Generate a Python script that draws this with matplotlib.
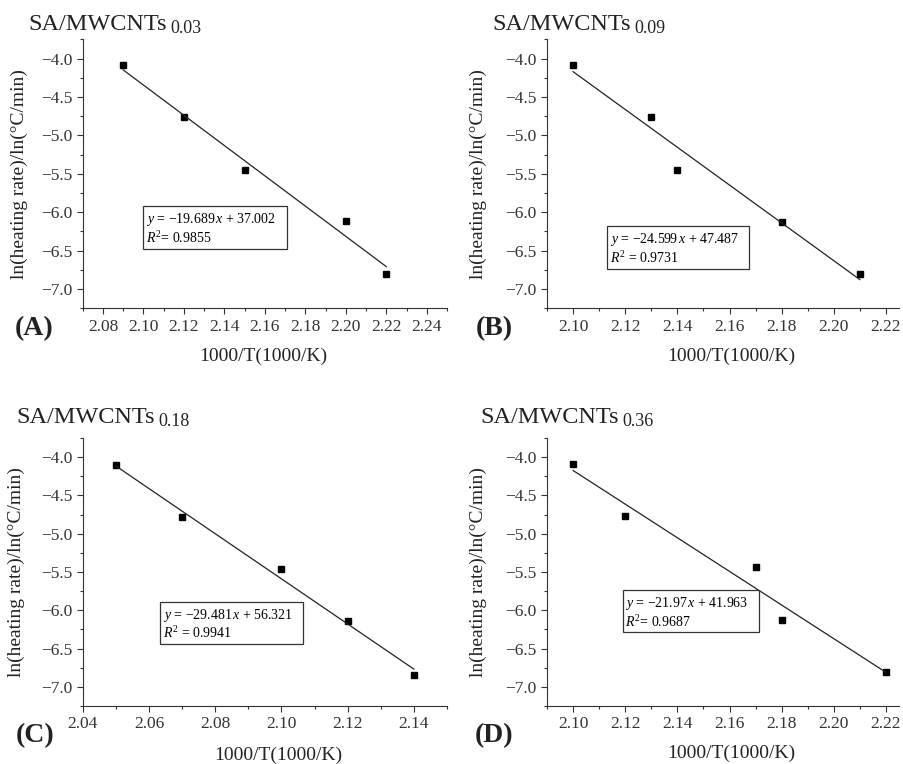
import numpy as np
import matplotlib
matplotlib.use('Agg')
import matplotlib.pyplot as plt
from matplotlib.ticker import MultipleLocator

plt.rcParams['font.family'] = ['Liberation Serif', 'DejaVu Serif']
plt.rcParams['mathtext.fontset'] = 'custom'
plt.rcParams['mathtext.rm'] = 'Liberation Serif'
plt.rcParams['mathtext.it'] = 'Liberation Serif:italic'

# data
panels = ['A', 'B', 'C', 'D']
subs = ['0.03', '0.09', '0.18', '0.36']
x_a = [2.09, 2.12, 2.15, 2.20, 2.22]
y_a = [-4.09, -4.76, -5.445, -6.115, -6.81]
x_b = [2.10, 2.13, 2.14, 2.18, 2.21]
y_b = [-4.08, -4.76, -5.45, -6.13, -6.81]
x_c = [2.05, 2.07, 2.10, 2.12, 2.14]
y_c = [-4.10, -4.785, -5.465, -6.145, -6.84]
x_d = [2.10, 2.12, 2.17, 2.18, 2.22]
y_d = [-4.09, -4.77, -5.44, -6.13, -6.81]
slopes = [-19.689, -24.599, -29.481, -21.97]
intercepts = [37.002, 47.487, 56.321, 41.963]
r2_text = ['$R^2$= 0.9855', '$R^2$ = 0.9731', '$R^2$ = 0.9941', '$R^2$= 0.9687']
eq_text = ['\u221219.689', '\u221224.599', '\u221229.481', '\u221221.97']
eq_b = ['37.002', '47.487', '56.321', '41.963']
xs = [x_a, x_b, x_c, x_d]
ys = [y_a, y_b, y_c, y_d]

xlims = [(2.07, 2.25), (2.09, 2.225), (2.04, 2.15), (2.09, 2.225)]

W, H = 904, 764
fig = plt.figure(figsize=(W / 100, H / 100), dpi=100)

# layout in pixels: left, right, top, bottom
boxes = [(82.7, 447, 39.3, 308.3), (547, 899, 39.3, 308.3),
         (82.7, 447, 438, 706), (547, 899, 438, 706)]
title_pos = [(28, 30), (492, 30), (16, 422.7), (480, 422.7)]
lab_pos = [(15, 335), (476, 335), (16, 742), (474.7, 742)]
xlab_pos = [(0.495, -0.177), (0.523, -0.177), (0.536, -0.184), (0.523, -0.176)]
ylab_pos = [-0.175, -0.194, -0.181, -0.194]
txt_pos = [(0.174, 0.362), (0.178, 0.287), (0.22, 0.371), (0.223, 0.415)]

for i in range(4):
    l, r, t, b = boxes[i]
    ax = fig.add_axes([l / W, 1 - b / H, (r - l) / W, (b - t) / H])
    x = np.array(xs[i])
    ax.plot(x, ys[i], 's', color='black', ms=4.5)
    xf = np.array([x.min(), x.max()])
    ax.plot(xf, slopes[i] * xf + intercepts[i], color='#222222', lw=0.9)

    ax.set_xlim(*xlims[i])
    ax.set_ylim(-7.25, -3.75)
    ax.xaxis.set_major_locator(MultipleLocator(0.02))
    ax.xaxis.set_minor_locator(MultipleLocator(0.01))
    ax.yaxis.set_major_locator(MultipleLocator(0.5))
    ax.yaxis.set_minor_locator(MultipleLocator(0.25))
    ax.xaxis.set_major_formatter(lambda v, p: f'{v:.2f}')
    ax.yaxis.set_major_formatter(lambda v, p: f'{v:.1f}'.replace('-', '\u2212'))
    ax.spines['top'].set_visible(False)
    ax.spines['right'].set_visible(False)
    ax.tick_params(which='major', length=4, width=0.8, labelsize=12.5,
                   colors='#333333', labelcolor='#333333')
    ax.tick_params(which='minor', length=2.5, width=0.8, colors='#333333')
    for s in ['left', 'bottom']:
        ax.spines[s].set_color('#333333')

    ax.set_xlabel('1000/T(1000/K)', fontsize=14, va='center', color='#222222')
    ax.xaxis.set_label_coords(*xlab_pos[i])
    ax.set_ylabel('ln(heating rate)/ln(°C/min)', fontsize=14, va='center',
                  color='#222222')
    ax.yaxis.set_label_coords(ylab_pos[i], 0.5)

    # fit equation box
    txt = f'$y$ = {eq_text[i]}$\\,x$ + {eq_b[i]}   \n{r2_text[i]}'
    ax.text(txt_pos[i][0], txt_pos[i][1], txt, transform=ax.transAxes,
            ha='left', va='top', fontsize=10, linespacing=1.15,
            bbox=dict(boxstyle='square,pad=0.2', fc='white', ec='#333333', lw=0.9))

    tx, ty = title_pos[i]
    fig.text(tx / W, 1 - ty / H, 'SA/MWCNTs', fontsize=17.5, va='baseline',
             color='#222222')
    fig.text((tx + 142) / W, 1 - (ty + 3) / H, subs[i], fontsize=13,
             va='baseline', color='#222222')
    px, py = lab_pos[i]
    fig.text(px / W, 1 - py / H, f'({panels[i]})', fontsize=20,
             fontweight='bold', va='baseline', color='#222222')

fig.savefig('out.png', dpi=100)
